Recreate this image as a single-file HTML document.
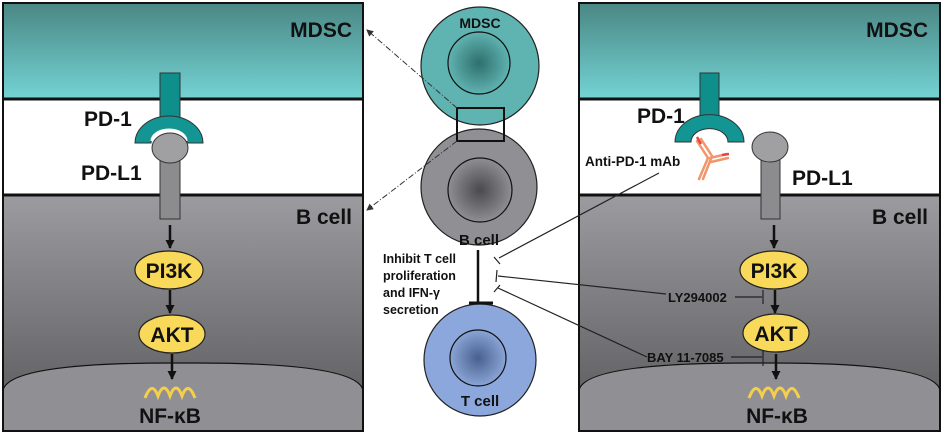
<!DOCTYPE html>
<html><head><meta charset="utf-8"><style>
html,body{margin:0;padding:0;background:#fff;width:943px;height:434px;overflow:hidden}
svg text{font-family:"Liberation Sans",Arial,sans-serif;font-weight:bold;fill:#111}
</style></head><body>
<svg width="943" height="434" viewBox="0 0 943 434" xmlns="http://www.w3.org/2000/svg">
<defs>
<linearGradient id="teal" x1="0" y1="0" x2="0" y2="1"><stop offset="0" stop-color="#4a8784"/><stop offset="1" stop-color="#74d3d4"/></linearGradient>
<linearGradient id="gray" x1="0" y1="0" x2="0" y2="1"><stop offset="0" stop-color="#9c9ca0"/><stop offset="1" stop-color="#58585b"/></linearGradient>
<radialGradient id="nt"><stop offset="0" stop-color="#2f6f6e"/><stop offset="1" stop-color="#5fb3b1"/></radialGradient>
<radialGradient id="ng"><stop offset="0" stop-color="#4a4a4d"/><stop offset="1" stop-color="#8f8f93"/></radialGradient>
<radialGradient id="nb"><stop offset="0" stop-color="#47608e"/><stop offset="1" stop-color="#8aa5d6"/></radialGradient>
<clipPath id="cl"><rect x="3" y="3" width="360" height="428"/></clipPath>
<clipPath id="cr"><rect x="579" y="3" width="361" height="428"/></clipPath>
<marker id="ah" markerUnits="userSpaceOnUse" markerWidth="10" markerHeight="10" refX="8" refY="5" orient="auto"><path d="M0,0.5 L9,5 L0,9.5 z" fill="#111"/></marker>
<marker id="da" markerUnits="userSpaceOnUse" markerWidth="7" markerHeight="7" refX="6" refY="3.5" orient="auto"><path d="M0,0 L7,3.5 L0,7 z" fill="#333"/></marker>
</defs>

<!-- LEFT PANEL -->
<g clip-path="url(#cl)">
<rect x="3" y="3" width="360" height="96" fill="url(#teal)"/>
<rect x="3" y="99" width="360" height="96" fill="#fff"/>
<rect x="3" y="195" width="360" height="236" fill="url(#gray)"/>
<path d="M3,390 Q10,362 183,363 Q356,362 363,390 L363,431 L3,431 z" fill="#909094" stroke="#111" stroke-width="1.2"/>
</g>
<rect x="3" y="3" width="360" height="428" fill="none" stroke="#111" stroke-width="2"/>
<line x1="3" y1="99" x2="363" y2="99" stroke="#111" stroke-width="3"/>
<line x1="3" y1="195" x2="363" y2="195" stroke="#111" stroke-width="3"/>
<rect x="160" y="73" width="20" height="47" fill="#0f8f8c" stroke="#333"/>
<path d="M135,143 A34,27 0 0 1 203,143 L187,143 A18,13 0 0 0 151,143 z" fill="#139593" stroke="#333"/>
<path d="M152,141 A17,11 0 0 1 186,141" fill="none" stroke="#fff" stroke-width="3"/>
<rect x="160" y="158" width="20" height="61" fill="#8c8c8f" stroke="#333"/>
<ellipse cx="170" cy="148" rx="18" ry="15" fill="#a0a0a3" stroke="#333"/>
<line x1="170" y1="225" x2="170" y2="248" stroke="#111" stroke-width="2.5" marker-end="url(#ah)"/>
<ellipse cx="169" cy="270" rx="34" ry="19" fill="#f8d95a" stroke="#222" stroke-width="1.2"/>
<text x="169" y="278" font-size="21" text-anchor="middle">PI3K</text>
<line x1="170" y1="290" x2="170" y2="313" stroke="#111" stroke-width="2.5" marker-end="url(#ah)"/>
<ellipse cx="172" cy="334" rx="33" ry="19" fill="#f8d95a" stroke="#222" stroke-width="1.2"/>
<text x="172" y="342" font-size="21" text-anchor="middle">AKT</text>
<line x1="172" y1="354" x2="172" y2="379" stroke="#111" stroke-width="2.5" marker-end="url(#ah)"/>
<path d="M145,398 Q152,380 158,396 Q164,380 170,396 Q176,380 182,396 Q188,380 195,398" fill="none" stroke="#f5cf4a" stroke-width="3"/>
<text x="170" y="423" font-size="21" text-anchor="middle">NF-κB</text>
<text x="352" y="37" font-size="21" text-anchor="end">MDSC</text>
<text x="84" y="126" font-size="21">PD-1</text>
<text x="81" y="180" font-size="21">PD-L1</text>
<text x="352" y="224" font-size="21" text-anchor="end">B cell</text>

<!-- RIGHT PANEL -->
<g clip-path="url(#cr)">
<rect x="579" y="3" width="361" height="96" fill="url(#teal)"/>
<rect x="579" y="99" width="361" height="96" fill="#fff"/>
<rect x="579" y="195" width="361" height="236" fill="url(#gray)"/>
<path d="M579,390 Q586,362 760,363 Q933,362 940,390 L940,431 L579,431 z" fill="#909094" stroke="#111" stroke-width="1.2"/>
</g>
<rect x="579" y="3" width="361" height="428" fill="none" stroke="#111" stroke-width="2"/>
<line x1="579" y1="99" x2="940" y2="99" stroke="#111" stroke-width="3"/>
<line x1="579" y1="195" x2="940" y2="195" stroke="#111" stroke-width="3"/>
<rect x="700" y="73" width="19" height="47" fill="#0f8f8c" stroke="#333"/>
<path d="M675,142 A34,27 0 0 1 744,142 L728,142 A18,13 0 0 0 691,142 z" fill="#139593" stroke="#333"/>
<rect x="761" y="158" width="19" height="61" fill="#8c8c8f" stroke="#333"/>
<ellipse cx="770" cy="147" rx="18" ry="15" fill="#a0a0a3" stroke="#333"/>
<!-- antibody -->
<g stroke="#f0966a" stroke-width="2.5" fill="none" stroke-linecap="round">
<path d="M697,141 L708,158 L699,179"/>
<path d="M701,139 L712,156 L703,179"/>
<path d="M710,158 L727,154"/>
<path d="M711,162 L728,158"/>
</g>
<g stroke="#e04848" stroke-width="2.5"><line x1="697" y1="137" x2="701" y2="144"/><line x1="722" y1="155" x2="729" y2="154"/></g>
<text x="585" y="166" font-size="13.5">Anti-PD-1 mAb</text>
<line x1="774" y1="225" x2="774" y2="248" stroke="#111" stroke-width="2.5" marker-end="url(#ah)"/>
<ellipse cx="774" cy="270" rx="34" ry="19" fill="#f8d95a" stroke="#222" stroke-width="1.2"/>
<text x="774" y="278" font-size="21" text-anchor="middle">PI3K</text>
<line x1="775" y1="290" x2="775" y2="313" stroke="#111" stroke-width="2.5" marker-end="url(#ah)"/>
<ellipse cx="776" cy="333" rx="33" ry="19" fill="#f8d95a" stroke="#222" stroke-width="1.2"/>
<text x="776" y="341" font-size="21" text-anchor="middle">AKT</text>
<line x1="776" y1="354" x2="776" y2="379" stroke="#111" stroke-width="2.5" marker-end="url(#ah)"/>
<path d="M749,398 Q756,380 762,396 Q768,380 774,396 Q780,380 786,396 Q792,380 799,398" fill="none" stroke="#f5cf4a" stroke-width="3"/>
<text x="777" y="423" font-size="21" text-anchor="middle">NF-κB</text>
<text x="928" y="37" font-size="21" text-anchor="end">MDSC</text>
<text x="637" y="123" font-size="21">PD-1</text>
<text x="792" y="185" font-size="21">PD-L1</text>
<text x="928" y="224" font-size="21" text-anchor="end">B cell</text>
<text x="668" y="302" font-size="13">LY294002</text>
<line x1="735" y1="297" x2="762" y2="297" stroke="#222" stroke-width="1.2"/>
<line x1="763" y1="290" x2="763" y2="304" stroke="#222" stroke-width="1.2"/>
<text x="647" y="362" font-size="13">BAY 11-7085</text>
<line x1="731" y1="357" x2="762" y2="357" stroke="#222" stroke-width="1.2"/>
<line x1="763" y1="350" x2="763" y2="366" stroke="#222" stroke-width="1.2"/>

<!-- MIDDLE -->
<circle cx="480" cy="66" r="59" fill="#5fb3b1" stroke="#222" stroke-width="1.2"/>
<circle cx="479" cy="63" r="31" fill="url(#nt)" stroke="#111" stroke-width="1.2"/>
<text x="480" y="28" font-size="14" text-anchor="middle">MDSC</text>
<circle cx="479" cy="187" r="58" fill="#909094" stroke="#222" stroke-width="1.2"/>
<circle cx="480" cy="190" r="32" fill="url(#ng)" stroke="#111" stroke-width="1.2"/>
<text x="479" y="245" font-size="15" text-anchor="middle">B cell</text>
<rect x="457" y="108" width="47" height="33" fill="none" stroke="#111" stroke-width="2"/>
<line x1="457" y1="108" x2="367" y2="30" stroke="#333" stroke-width="1" stroke-dasharray="6,2,1,2" marker-end="url(#da)"/>
<line x1="457" y1="141" x2="367" y2="210" stroke="#333" stroke-width="1" stroke-dasharray="6,2,1,2" marker-end="url(#da)"/>
<circle cx="480" cy="360" r="56" fill="#8ca7dc" stroke="#222" stroke-width="1.2"/>
<circle cx="478" cy="358" r="28" fill="url(#nb)" stroke="#111" stroke-width="1.2"/>
<text x="480" y="406" font-size="15" text-anchor="middle">T cell</text>
<line x1="478" y1="250" x2="478" y2="303" stroke="#111" stroke-width="2.5"/>
<line x1="469" y1="303" x2="493" y2="303" stroke="#111" stroke-width="3"/>
<text font-size="12.5"><tspan x="383" y="263">Inhibit T cell</tspan><tspan x="383" y="280">proliferation</tspan><tspan x="383" y="297">and IFN-γ</tspan><tspan x="383" y="314">secretion</tspan></text>
<line x1="499" y1="258" x2="659" y2="173" stroke="#222" stroke-width="1.2"/>
<line x1="494" y1="257" x2="500" y2="264" stroke="#222" stroke-width="1.2"/>
<line x1="498" y1="276" x2="666" y2="294" stroke="#222" stroke-width="1.2"/>
<line x1="497" y1="270" x2="496" y2="282" stroke="#222" stroke-width="1.2"/>
<line x1="498" y1="288" x2="647" y2="357" stroke="#222" stroke-width="1.2"/>
<line x1="494" y1="292" x2="500" y2="285" stroke="#222" stroke-width="1.2"/>
</svg>
</body></html>
